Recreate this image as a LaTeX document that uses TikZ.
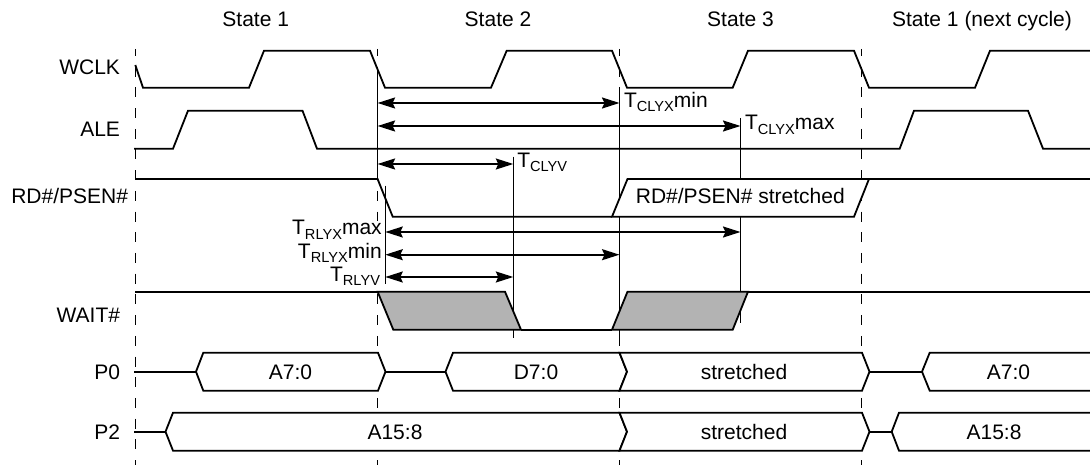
\documentclass[tikz,border=0pt]{standalone}
\usepackage{fontspec}
\setmainfont{Liberation Sans}
\usetikzlibrary{arrows.meta}
\definecolor{shade}{HTML}{B3B3B3}
\newcommand{\tsub}[1]{\raisebox{-4.4pt}{\fontsize{14.6}{14.6}\selectfont #1}}
\tikzset{
  sig/.style={line width=1.8pt,black,line join=miter},
  guide/.style={line width=1pt,black},
  phase/.style={line width=1pt,black,dash pattern=on 10pt off 10.7pt,dash phase=3pt},
  bus/.style={sig,fill=white},
  hatch/.style={sig,fill=shade},
  span/.style={line width=1.8pt,black,{Stealth[length=17.5pt,width=11pt,inset=2.5pt]}-{Stealth[length=17.5pt,width=11pt,inset=2.5pt]}},
  lbl/.style={inner sep=0pt,outer sep=0pt,font=\fontsize{21}{21}\selectfont},
  sl/.style={lbl,anchor=base east},
  ctr/.style={lbl,anchor=base},
  lft/.style={lbl,anchor=base west}
}
\begin{document}
\begin{tikzpicture}[x=1pt,y=-1pt]
\useasboundingbox (0,0) rectangle (1090,465);
\clip (0,0) rectangle (1090,465);
% phase boundaries
\draw[phase] (135.3,49) -- (135.3,465);
\draw[phase] (377.6,49) -- (377.6,465);
\draw[phase] (619.5,49) -- (619.5,465);
\draw[phase] (861.4,49) -- (861.4,465);
% the timing labels sit on a clear ground
\fill[white] (376,221) rectangle (379.5,287);
% guide ends
\coordinate (a0) at (377.6,103);  \coordinate (a1) at (619.5,103);
\coordinate (b0) at (377.6,126);  \coordinate (b1) at (740.5,126);
\coordinate (c0) at (377.6,164);  \coordinate (c1) at (513.3,164);
\coordinate (d0) at (385.3,232);  \coordinate (d1) at (740.5,232);
\coordinate (e0) at (385.3,254.7);\coordinate (e1) at (619.5,254.7);
\coordinate (f0) at (385.3,277);  \coordinate (f1) at (513.3,277);
% guides
\draw[guide] (377.6,67) -- (377.6,179);
\draw[guide] (385.3,185.7) -- (385.3,284);
\draw[guide] (619.5,87.7) -- (619.5,345);
\draw[guide] (740.5,118) -- (740.5,322.7);
\draw[guide] (513.3,156.7) -- (513.3,338);
% WCLK
\draw[sig] (135.3,65) -- (143,87.7) -- (249,87.7) -- (264,50.7) -- (370,50.7) -- (385,87.7) -- (491,87.7) -- (506.7,50.7) -- (612,50.7) -- (627,87.7) -- (732.7,87.7) -- (748,50.7) -- (854,50.7) -- (869,87.7) -- (975,87.7) -- (990,50.7) -- (1092,50.7);
% ALE
\draw[sig] (134,148.7) -- (173,148.7) -- (188,110.7) -- (302.5,110.7) -- (317,148.7) -- (899.7,148.7) -- (914,110.7) -- (1028,110.7) -- (1043,148.7) -- (1092,148.7);
% RD#/PSEN#
\draw[sig] (135.3,179) -- (377.6,179) -- (392.7,216.7) -- (612,216.7);
\draw[bus] (612,216.7) -- (627.5,179) -- (869,179) -- (854,216.7) -- cycle;
\draw[sig] (869,179) -- (1092,179);
% WAIT#
\draw[sig] (135.3,291.7) -- (377.6,291.7);
\draw[hatch] (377.6,291.7) -- (505,291.7) -- (521,329.7) -- (393.3,329.7) -- cycle;
\draw[sig] (521,329.7) -- (612,329.7);
\draw[hatch] (612,329.7) -- (627.5,291.7) -- (748,291.7) -- (732.7,329.7) -- cycle;
\draw[sig] (748,291.7) -- (1092,291.7);
% P0
\draw[sig] (134,371.7) -- (196,371.7);
\draw[bus] (196,371.7) -- (203.3,352.7) -- (378,352.7) -- (385.5,371.7) -- (378,390.7) -- (203.3,390.7) -- cycle;
\draw[sig] (385.5,371.7) -- (445.5,371.7);
\draw[bus] (445.5,371.7) -- (453,352.7) -- (619.5,352.7) -- (627,371.7) -- (619.5,390.7) -- (453,390.7) -- cycle;
\draw[bus] (619.5,352.7) -- (862,352.7) -- (869.5,371.7) -- (862,390.7) -- (619.5,390.7) -- (627,371.7) -- cycle;
\draw[sig] (869.5,371.7) -- (922,371.7);
\draw[bus] (1092,352.7) -- (929.7,352.7) -- (922,371.7) -- (929.7,390.7) -- (1092,390.7);
% P2
\draw[sig] (134,431.7) -- (165.5,431.7);
\draw[bus] (165.5,431.7) -- (173,412.7) -- (619.5,412.7) -- (627,431.7) -- (619.5,450.7) -- (173,450.7) -- cycle;
\draw[bus] (619.5,412.7) -- (862,412.7) -- (869.5,431.7) -- (862,450.7) -- (619.5,450.7) -- (627,431.7) -- cycle;
\draw[sig] (869.5,431.7) -- (891.7,431.7);
\draw[bus] (1092,412.7) -- (899,412.7) -- (891.7,431.7) -- (899,450.7) -- (1092,450.7);
% timing spans
\draw[span] (a0) -- (a1);
\draw[span] (b0) -- (b1);
\draw[span] (c0) -- (c1);
\draw[span] (d0) -- (d1);
\draw[span] (e0) -- (e1);
\draw[span] (f0) -- (f1);
% state headings
\node[ctr] (s1) at (255.7,26.7) {State 1};
\node[ctr] (s2) at (498,26.7) {State 2};
\node[ctr] (s3) at (740.5,26.7) {State 3};
\node[ctr] (s4) at (982,26.7) {State 1 (next cycle)};
% signal names
\node[sl] (n1) at (120,75) {WCLK};
\node[sl] (n2) at (120,136.7) {ALE};
\node[sl] (n3) at (128,204) {RD\#/PSEN\#};
\node[sl] (n4) at (120,322.3) {WAIT\#};
\node[sl] (n5) at (120,379) {P0};
\node[sl] (n6) at (120,439) {P2};
% bus text
\node[ctr] (t1) at (740.3,204) {RD\#/PSEN\# stretched};
\node[ctr] (t2) at (290.5,379) {A7:0};
\node[ctr] (t3) at (536,379) {D7:0};
\node[ctr] (t4) at (744,379) {stretched};
\node[ctr] (t5) at (1008.5,379) {A7:0};
\node[ctr] (t6) at (395,439) {A15:8};
\node[ctr] (t7) at (744,439) {stretched};
\node[ctr] (t8) at (994,439) {A15:8};
% timing labels
\node[lft] (l1) at (624,107.3) {T\tsub{CLYX}min};
\node[lft] (l2) at (745,130) {T\tsub{CLYX}max};
\node[lft] (l3) at (517.3,167.3) {T\tsub{CLYV}};
\node[sl] (l4) at (381.7,235) {T\tsub{RLYX}max};
\node[sl] (l5) at (381.7,258.3) {T\tsub{RLYX}min};
\node[sl] (l6) at (380,281) {T\tsub{RLYV}};
\end{tikzpicture}
\end{document}
